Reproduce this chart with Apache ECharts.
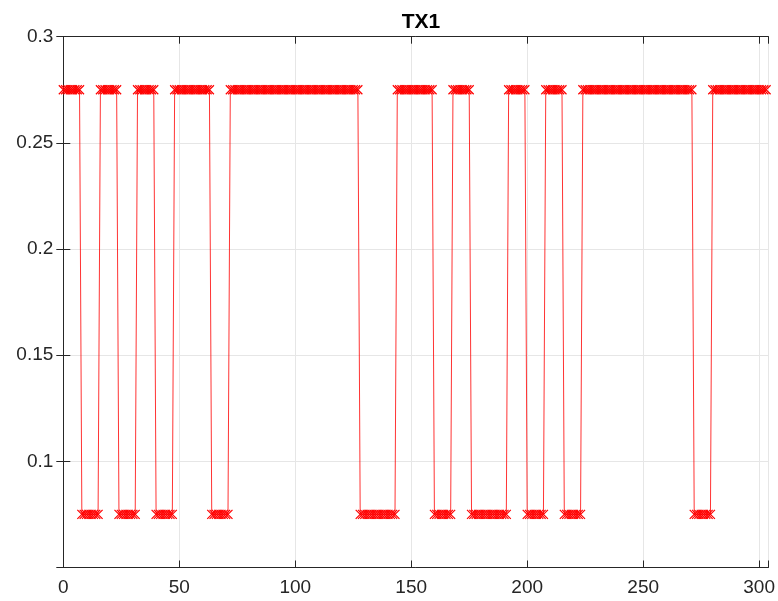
<!DOCTYPE html>
<html>
<head>
<meta charset="utf-8">
<script src="https://cdn.jsdelivr.net/npm/echarts@6/dist/echarts.min.js"></script>
<style>html,body{margin:0;padding:0;background:#fff}#c{width:778px;height:601px}</style>
</head>
<body>
<div id="c"></div>
<script>
// Step signal: each run starts at segStart[i] with level segLevel[i]
const segStart = [0, 8, 16, 24, 32, 40, 48, 64, 72, 128, 144, 160, 168, 176, 192, 200, 208, 216, 224, 272, 280];
const segLevel = [0.275, 0.075, 0.275, 0.075, 0.275, 0.075, 0.275, 0.075, 0.275, 0.075, 0.275, 0.075, 0.275, 0.075, 0.275, 0.075, 0.275, 0.075, 0.275, 0.075, 0.275];
const lastSample = 303;
const xTicks = [0, 50, 100, 150, 200, 250, 300];
const yTicks = [0.1, 0.15, 0.2, 0.25, 0.3];
const titleText = 'TX1';

const points = [];
for (let i = 0; i < segStart.length; i++) {
  const end = i + 1 < segStart.length ? segStart[i + 1] - 1 : lastSample;
  for (let x = segStart[i]; x <= end; x++) points.push([x, segLevel[i]]);
}

const FONT = "'Liberation Sans', Arial, Helvetica, sans-serif";
const AX = '#262626';
const chart = echarts.init(document.getElementById('c'), null, {renderer: 'canvas'});
const common = {
  axisLine: {show: true, lineStyle: {color: AX, width: 1}},
  axisTick: {show: true, inside: true, length: 7, lineStyle: {color: AX, width: 1}},
};
chart.setOption({
  animation: false,
  backgroundColor: '#fff',
  title: {text: titleText, left: 416, top: 7, textAlign: 'center',
    textStyle: {fontFamily: FONT, fontSize: 21, fontWeight: 'bold', color: '#000'}},
  grid: {left: 63.3, right: 9.3, top: 36.7, bottom: 33.5, show: false},
  xAxis: [
    Object.assign({type: 'value', min: 0, max: 304, interval: 50, position: 'bottom',
      axisLabel: {fontFamily: FONT, fontSize: 19, color: AX, margin: 11,
        formatter: v => xTicks.includes(v) ? String(v) : ''},
      splitLine: {show: true, lineStyle: {color: '#e6e6e6', width: 1}}}, common),
    Object.assign({type: 'value', min: 0, max: 304, interval: 50, position: 'top',
      axisLabel: {show: false}, splitLine: {show: false}}, common)
  ],
  yAxis: [
    Object.assign({type: 'value', min: 0.05, max: 0.3, interval: 0.05, position: 'left',
      axisLabel: {fontFamily: FONT, fontSize: 19, color: AX, margin: 10, showMinLabel: false,
        formatter: v => { const t = yTicks.find(k => Math.abs(k - v) < 1e-9); return t === undefined ? '' : String(t); }},
      splitLine: {show: true, lineStyle: {color: '#e6e6e6', width: 1}}}, common),
    Object.assign({type: 'value', min: 0.05, max: 0.3, interval: 0.05, position: 'right',
      axisLabel: {show: false}, splitLine: {show: false}}, common)
  ],
  series: [{
    type: 'line',
    data: points,
    xAxisIndex: 0, yAxisIndex: 0,
    symbol: 'path://M0,0L10,10M10,0L0,10',
    symbolSize: 9,
    showAllSymbol: true,
    clip: false,
    lineStyle: {color: '#ff0000', width: 0.8},
    itemStyle: {color: 'rgba(0,0,0,0)', borderColor: '#ff0000', borderWidth: 1.2},
    emphasis: {disabled: true}
  }]
});
</script>
</body>
</html>
